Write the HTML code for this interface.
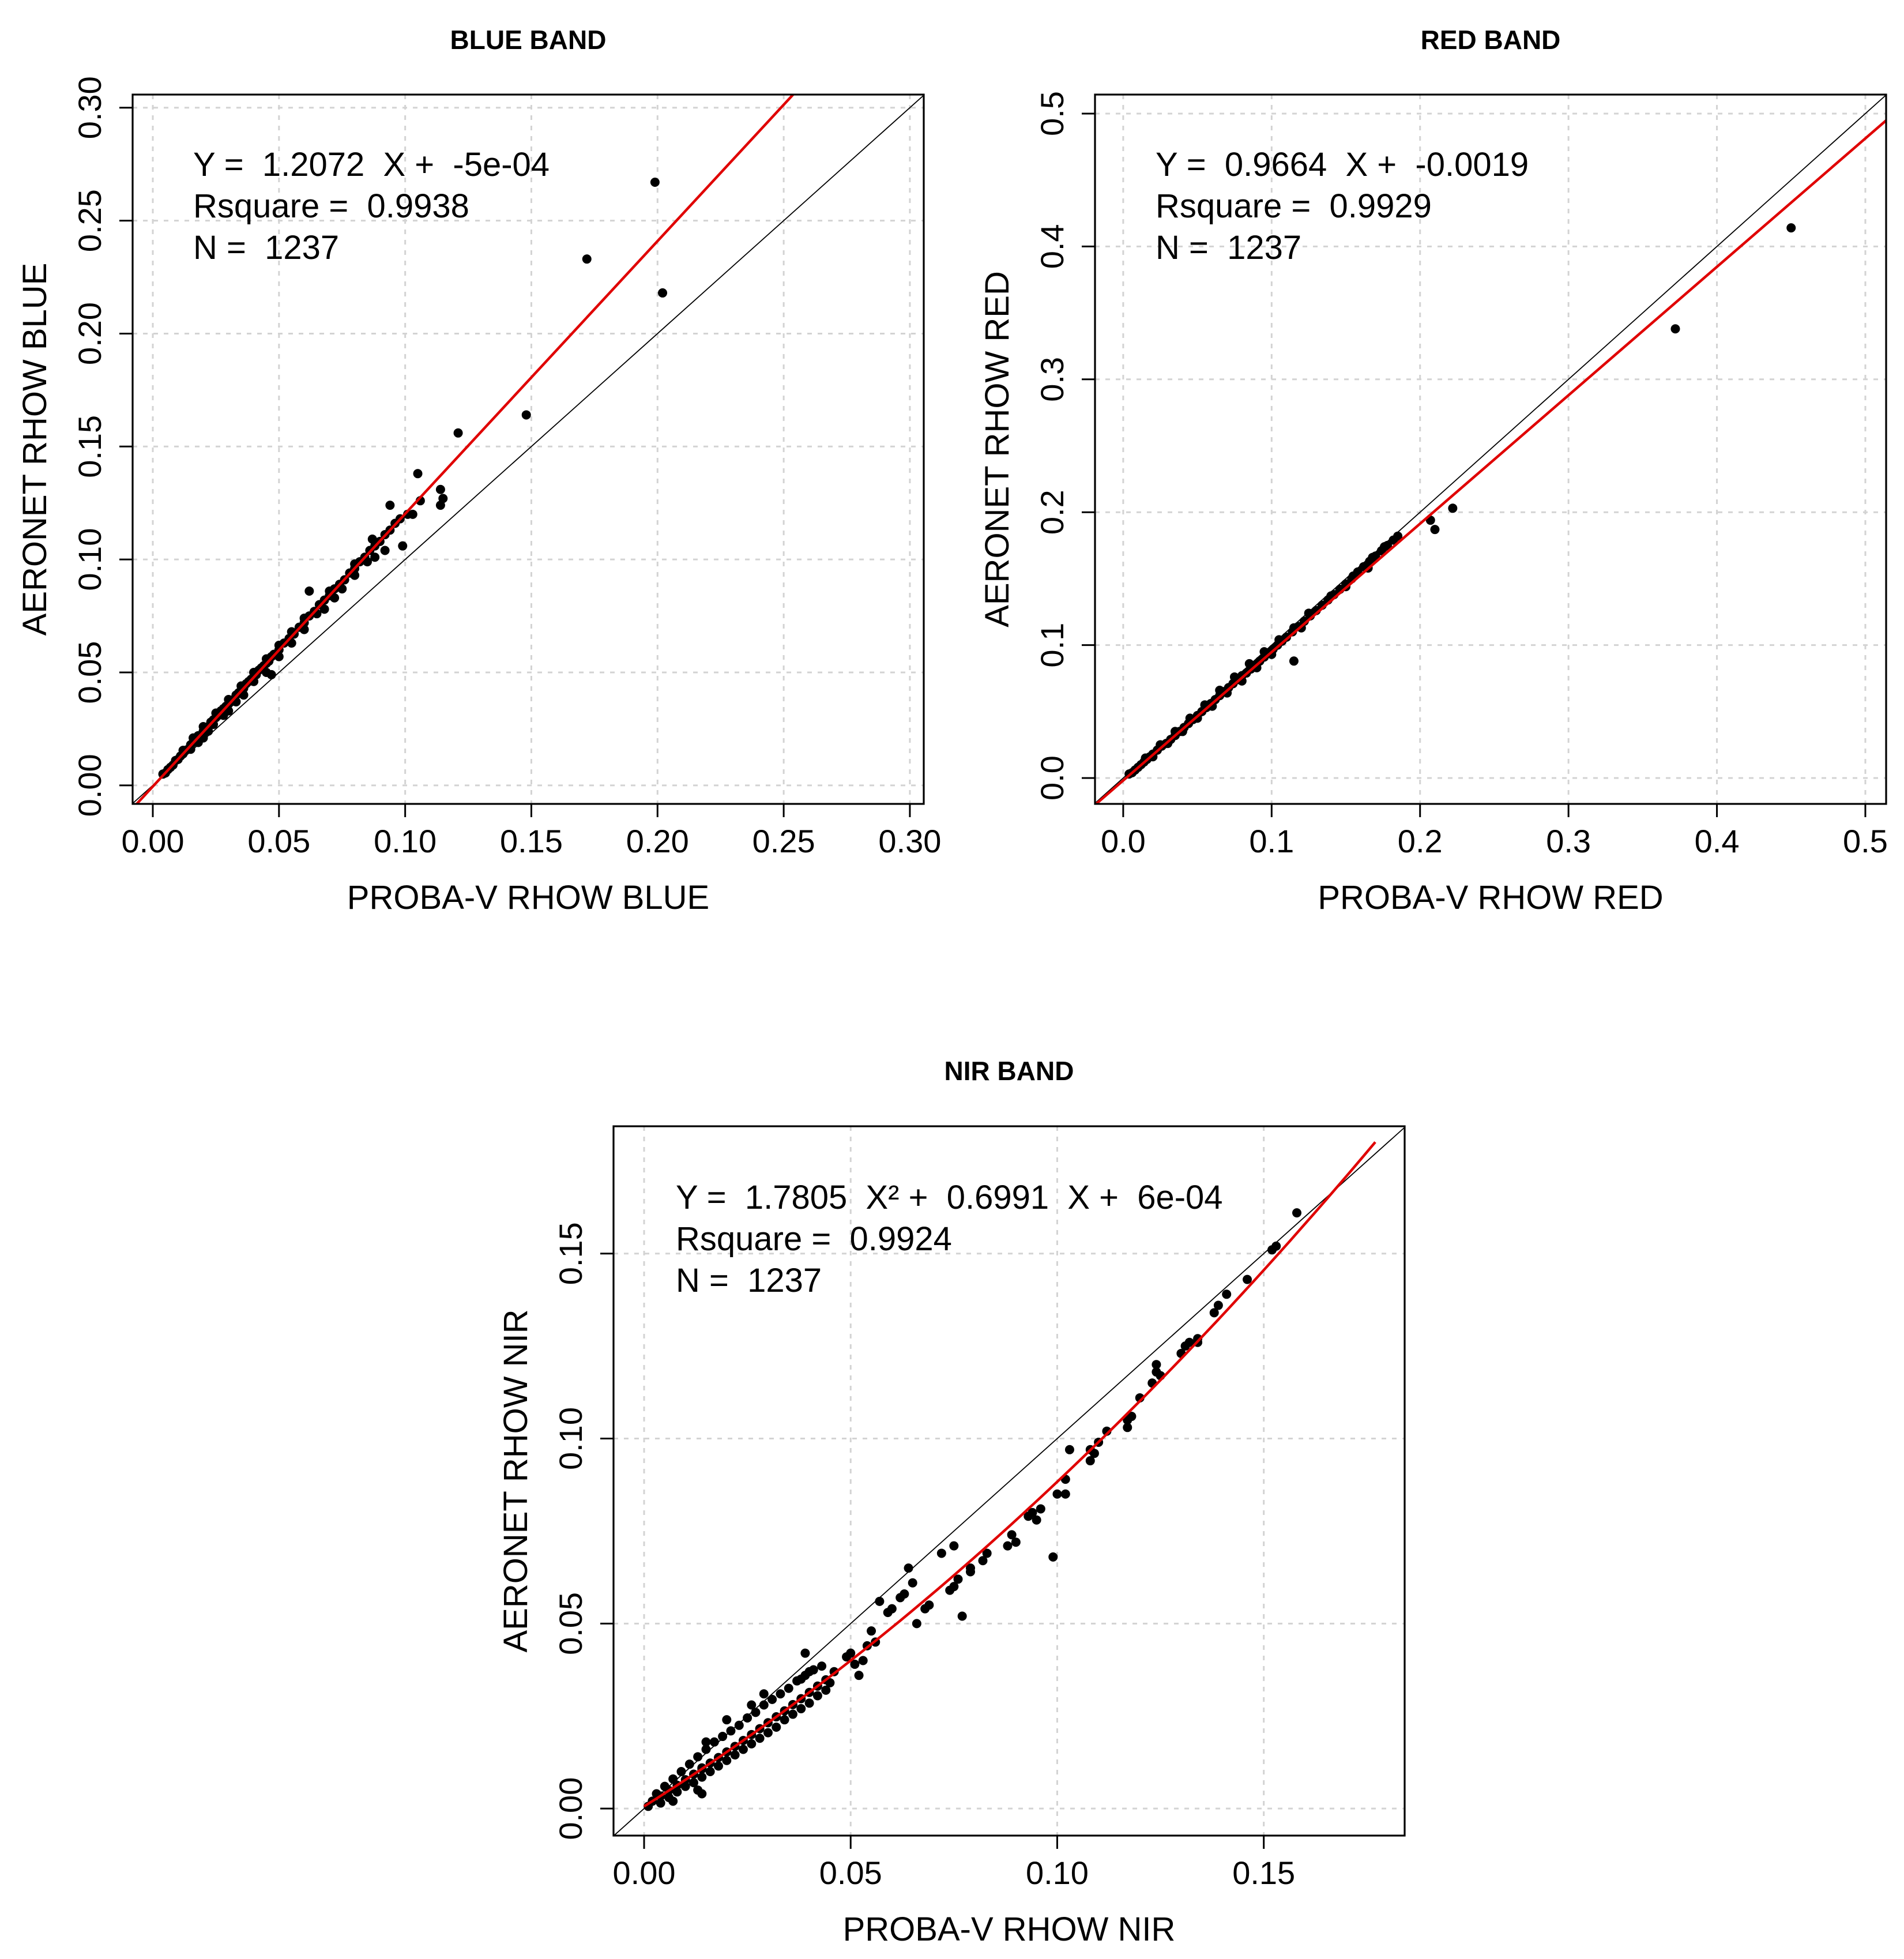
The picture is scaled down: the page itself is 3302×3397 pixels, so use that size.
<!DOCTYPE html>
<html><head><meta charset="utf-8"><style>
html,body{margin:0;padding:0;background:#fff;width:3302px;height:3397px;overflow:hidden;}
svg{display:block;font-family:"Liberation Sans",Arial,sans-serif;}
text{white-space:pre;}
</style></head><body>
<svg id="fig" width="3302" height="3397" viewBox="0 0 3302 3397" xmlns="http://www.w3.org/2000/svg">
<rect width="3302" height="3397" fill="#fff"/>
</svg>
<script>
// ---------- BLUE data ----------
const blueX = [0.004,0.005,0.006,0.007,0.008,0.009,0.010,0.011,0.012,0.013,0.014,0.015,0.016,0.017,0.018,0.019,0.020,0.021,0.022,0.023,0.024,0.025,0.026,0.027,0.028,0.029,0.030,0.031,0.032,0.033,0.034,0.035,0.036,0.037,0.038,0.039,0.040,0.041,0.042,0.043,0.044,0.045,0.046,0.047,0.048,0.050,0.052,0.054,0.056,0.058,0.060,0.062,0.064,0.066,0.068,0.070,0.072,0.074,0.076,0.078,0.080,0.082,0.084,0.086,0.088,0.090,0.092,0.094,0.096,0.098,
0.015,0.018,0.020,0.022,0.024,0.028,0.030,0.033,0.036,0.040,0.045,0.047,0.050,0.055,0.060,0.065,0.068,0.072,0.075,0.080,0.085,0.088,0.092,0.099,
0.012,0.016,0.020,0.025,0.030,0.035,0.040,0.045,0.050,0.055,0.060,0.062,0.070,0.080,0.087,0.094,
0.101,0.103,0.105,0.106,0.114,0.115,0.114,0.121,0.148,0.172,0.199,0.202];
const blueY = [0.005,0.0055,0.007,0.008,0.009,0.011,0.0115,0.013,0.014,0.0155,0.016,0.018,0.019,0.020,0.022,0.022,0.024,0.025,0.026,0.028,0.029,0.030,0.031,0.033,0.034,0.035,0.036,0.037,0.038,0.040,0.041,0.042,0.043,0.045,0.046,0.047,0.048,0.049,0.051,0.052,0.053,0.054,0.055,0.057,0.058,0.060,0.063,0.065,0.067,0.070,0.072,0.075,0.077,0.080,0.082,0.084,0.087,0.089,0.091,0.094,0.096,0.099,0.101,0.104,0.106,0.108,0.111,0.113,0.116,0.118,
0.016,0.019,0.021,0.024,0.027,0.031,0.033,0.037,0.040,0.046,0.050,0.049,0.057,0.063,0.069,0.076,0.078,0.083,0.087,0.093,0.099,0.101,0.104,0.106,
0.0155,0.021,0.026,0.032,0.038,0.044,0.050,0.056,0.062,0.068,0.074,0.086,0.086,0.098,0.109,0.124,
0.120,0.120,0.138,0.126,0.131,0.127,0.124,0.156,0.164,0.233,0.267,0.218];
const blueTicks = [0.00,0.05,0.10,0.15,0.20,0.25,0.30];
const blueTickLabels = ["0.00","0.05","0.10","0.15","0.20","0.25","0.30"];
const blueFit = [1.2072,-0.0005];

// ---------- RED data ----------
const redX = [0.004,0.006,0.008,0.010,0.012,0.014,0.016,0.018,0.020,0.023,0.026,0.029,0.032,0.035,0.038,0.041,0.044,0.047,0.050,0.053,0.056,0.059,0.062,0.065,0.068,0.071,0.074,0.077,0.080,0.083,0.086,0.089,0.092,0.095,0.098,0.101,0.104,0.107,0.110,0.114,0.118,0.122,0.126,0.130,0.134,0.138,0.142,0.146,0.150,0.154,0.158,0.162,0.166,0.170,0.174,0.178,0.182,0.185,
0.015,0.025,0.035,0.045,0.055,0.065,0.075,0.085,0.095,0.105,0.115,0.125,0.140,0.155,0.168,0.176,
0.020,0.030,0.040,0.050,0.060,0.070,0.080,0.090,0.100,0.120,0.150,0.165,
0.115,0.207,0.210,0.222,0.372,0.450];
const redY = [0.003,0.004,0.006,0.008,0.010,0.012,0.014,0.016,0.018,0.021,0.024,0.026,0.029,0.032,0.035,0.038,0.041,0.044,0.047,0.050,0.053,0.056,0.059,0.062,0.065,0.068,0.071,0.074,0.077,0.079,0.082,0.085,0.088,0.091,0.094,0.097,0.100,0.103,0.106,0.110,0.114,0.118,0.122,0.126,0.130,0.134,0.138,0.142,0.146,0.150,0.155,0.159,0.163,0.167,0.171,0.175,0.179,0.182,
0.015,0.025,0.035,0.045,0.055,0.066,0.076,0.086,0.095,0.104,0.113,0.124,0.137,0.152,0.166,0.174,
0.016,0.026,0.035,0.045,0.054,0.064,0.073,0.083,0.093,0.113,0.144,0.158,
0.088,0.194,0.187,0.203,0.338,0.414];
const redTicks = [0.0,0.1,0.2,0.3,0.4,0.5];
const redTickLabels = ["0.0","0.1","0.2","0.3","0.4","0.5"];
const redFit = [0.9664,-0.0019];

// ---------- NIR data ----------
const nirX = [0.001,0.002,0.004,0.006,0.008,0.010,0.012,0.014,0.016,0.018,0.020,0.022,0.024,0.026,0.028,0.030,0.032,0.034,0.036,0.038,0.040,0.042,0.044,
0.003,0.005,0.007,0.009,0.011,0.013,0.015,0.017,0.019,0.021,0.023,0.025,0.027,0.029,0.031,0.033,0.035,0.037,0.039,0.041,0.043,
0.004,0.006,0.008,0.010,0.012,0.014,0.016,0.018,0.020,0.022,0.024,0.026,0.028,0.030,0.032,0.034,0.036,0.038,0.040,0.042,0.044,
0.158,0.153,0.152,0.146,0.141,0.139,0.138,0.134,0.134,0.131,0.132,0.130,0.124,0.124,0.125,0.123,0.120,0.118,0.117,0.117,0.112,0.110,0.108,0.109,0.108,0.103,0.102,0.102,0.100,0.099,0.096,0.095,0.094,0.093,0.089,0.090,0.088,0.083,0.082,0.079,0.079,0.075,0.076,0.075,0.074,0.077,0.072,0.069,0.068,0.065,0.064,0.063,0.062,0.066,0.060,0.059,0.057,0.056,0.055,0.054,0.053,0.051,0.052,0.050,0.049,0.046,0.045,0.039,0.040,0.038,0.029,0.026,0.020,0.015,0.014,0.007,0.014,0.013];
const nirY = [0.0006,0.0020,0.0034,0.0049,0.0063,0.0078,0.0093,0.0107,0.0123,0.0138,0.0153,0.0168,0.0184,0.0200,0.0216,0.0232,0.0248,0.0264,0.0281,0.0297,0.0314,0.0331,0.0348,
0.0040,0.0060,0.0080,0.0100,0.0120,0.0140,0.0160,0.0180,0.0195,0.0210,0.0225,0.0245,0.0260,0.0280,0.0295,0.0310,0.0325,0.0345,0.0360,0.0375,0.0385,
0.0015,0.0030,0.0045,0.0060,0.0070,0.0085,0.0100,0.0115,0.0130,0.0145,0.0160,0.0175,0.0190,0.0205,0.0220,0.0240,0.0255,0.0270,0.0285,0.0305,0.0320,
0.161,0.152,0.151,0.143,0.139,0.136,0.134,0.127,0.126,0.125,0.126,0.123,0.120,0.118,0.117,0.115,0.111,0.106,0.105,0.103,0.102,0.099,0.097,0.096,0.094,0.097,0.089,0.085,0.085,0.068,0.081,0.078,0.080,0.079,0.074,0.072,0.071,0.069,0.067,0.065,0.064,0.071,0.062,0.060,0.059,0.052,0.069,0.055,0.054,0.061,0.065,0.058,0.057,0.050,0.054,0.053,0.056,0.045,0.048,0.044,0.040,0.039,0.036,0.042,0.041,0.037,0.034,0.042,0.037,0.035,0.031,0.028,0.024,0.018,0.011,0.002,0.004,0.005];
const nirTicks = [0.00,0.05,0.10,0.15];
const nirTickLabels = ["0.00","0.05","0.10","0.15"];
const nirFit = [1.7805,0.6991,0.0006];

const NS = "http://www.w3.org/2000/svg";
const svg = document.getElementById('fig');
function mk(tag, attrs, parent){
  const e = document.createElementNS(NS, tag);
  for (const k in attrs) e.setAttribute(k, attrs[k]);
  (parent||svg).appendChild(e);
  return e;
}

function panel(p){
  const g = mk('g', {});
  
  
  const sx = v => p.L + (v - p.xmin) / (p.xmax - p.xmin) * p.W;
  const sy = v => p.T + p.H - (v - p.ymin) / (p.ymax - p.ymin) * p.H;
  const clipId = 'clip-' + p.key;
  const cp = mk('clipPath', {id: clipId}, g);
  mk('rect', {x:p.L, y:p.T, width:p.W, height:p.H}, cp);

  p.ticks.forEach((t, i) => {
    const gx = mk('line', {x1:sx(t), x2:sx(t), y1:p.T, y2:p.T+p.H, stroke:'#d3d3d3', 'stroke-width':3, 'stroke-dasharray':'8 10'}, g);
    
    
    const gy = mk('line', {x1:p.L, x2:p.L+p.W, y1:sy(t), y2:sy(t), stroke:'#d3d3d3', 'stroke-width':3, 'stroke-dasharray':'8 10'}, g);
    
    
    const tx = mk('line', {x1:sx(t), x2:sx(t), y1:p.T+p.H, y2:p.T+p.H+23, stroke:'#000', 'stroke-width':3}, g);
    
    
    const ty = mk('line', {x1:p.L-23, x2:p.L, y1:sy(t), y2:sy(t), stroke:'#000', 'stroke-width':3}, g);
    
    
    const lx = mk('text', {x:sx(t), y:p.T+p.H+84, 'font-size':56, 'text-anchor':'middle', fill:'#000'}, g);
    lx.textContent = p.labels[i];
    
    
    const ly = mk('text', {x:0, y:0, 'font-size':56, 'text-anchor':'middle', fill:'#000', transform:'translate(' + (p.L-55) + ',' + sy(t) + ') rotate(-90)'}, g);
    ly.textContent = p.labels[i];
    
    
  });

  const cg = mk('g', {'clip-path':'url(#' + clipId + ')'}, g);
  const d1 = mk('line', {x1:sx(-1), y1:sy(-1), x2:sx(1), y2:sy(1), stroke:'#000', 'stroke-width':1.8}, cg);
  
  

  p.xs.forEach((x, i) => {
    const c = mk('circle', {cx:sx(x), cy:sy(p.ys[i]), r:8, fill:'#000'}, cg);
    
    
  });

  let fitEl;
  if (p.fit.length === 2) {
    const a = p.fit[0], b = p.fit[1];
    fitEl = mk('line', {x1:sx(p.xmin), y1:sy(a*p.xmin+b), x2:sx(p.xmax), y2:sy(a*p.xmax+b), stroke:'#e00000', 'stroke-width':4.5}, cg);
  } else {
    const a = p.fit[0], b = p.fit[1], c0 = p.fit[2];
    let d = '';
    for (let k = 0; k <= 60; k++) {
      const x = p.fitEnd * k / 60;
      d += (k ? 'L' : 'M') + sx(x).toFixed(1) + ',' + sy(a*x*x + b*x + c0).toFixed(1);
    }
    fitEl = mk('path', {d:d, fill:'none', stroke:'#e00000', 'stroke-width':4.5}, cg);
  }
  
  

  const box = mk('rect', {x:p.L, y:p.T, width:p.W, height:p.H, fill:'none', stroke:'#000', 'stroke-width':3.2}, g);
  
  

  p.ann.forEach((s, i) => {
    const t = mk('text', {x:p.annX, y:p.annY + i*72, 'font-size':58, fill:'#000'}, g);
    t.textContent = s;
    
    
  });

  const cx = p.L + p.W/2, cy = p.T + p.H/2;
  const tt = mk('text', {x:cx, y:p.titleY, 'font-size':46, 'font-weight':'bold', 'text-anchor':'middle', fill:'#000'}, g);
  tt.textContent = p.title;
  
  
  const xt = mk('text', {x:cx, y:p.T+p.H+182, 'font-size':58, 'text-anchor':'middle', fill:'#000'}, g);
  xt.textContent = p.xlab;
  
  
  const yt = mk('text', {x:0, y:0, 'font-size':58, 'text-anchor':'middle', fill:'#000', transform:'translate(' + (p.L-150) + ',' + cy + ') rotate(-90)'}, g);
  yt.textContent = p.ylab;
  
  
}

panel({key:'blue', L:230, T:164, W:1372, H:1230, xmin:-0.0080, xmax:0.3055, ymin:-0.0082, ymax:0.3058,
  xs:blueX, ys:blueY, ticks:blueTicks, labels:blueTickLabels, fit:blueFit,
  ann:["Y =  1.2072  X +  -5e-04","Rsquare =  0.9938","N =  1237"], annX:335, annY:305,
  title:"BLUE BAND", titleY:85, xlab:"PROBA-V RHOW BLUE", ylab:"AERONET RHOW BLUE"});
panel({key:'red', L:1899, T:164, W:1372, H:1230, xmin:-0.019, xmax:0.514, ymin:-0.0195, ymax:0.5143,
  xs:redX, ys:redY, ticks:redTicks, labels:redTickLabels, fit:redFit,
  ann:["Y =  0.9664  X +  -0.0019","Rsquare =  0.9929","N =  1237"], annX:2004, annY:305,
  title:"RED BAND", titleY:85, xlab:"PROBA-V RHOW RED", ylab:"AERONET RHOW RED"});
panel({key:'nir', L:1064, T:1953, W:1372, H:1230, xmin:-0.0074, xmax:0.1841, ymin:-0.0073, ymax:0.1844,
  xs:nirX, ys:nirY, ticks:nirTicks, labels:nirTickLabels, fit:nirFit, fitEnd:0.177,
  ann:["Y =  1.7805  X² +  0.6991  X +  6e-04","Rsquare =  0.9924","N =  1237"], annX:1172, annY:2096,
  title:"NIR BAND", titleY:1873, xlab:"PROBA-V RHOW NIR", ylab:"AERONET RHOW NIR"});
</script>
</body></html>
